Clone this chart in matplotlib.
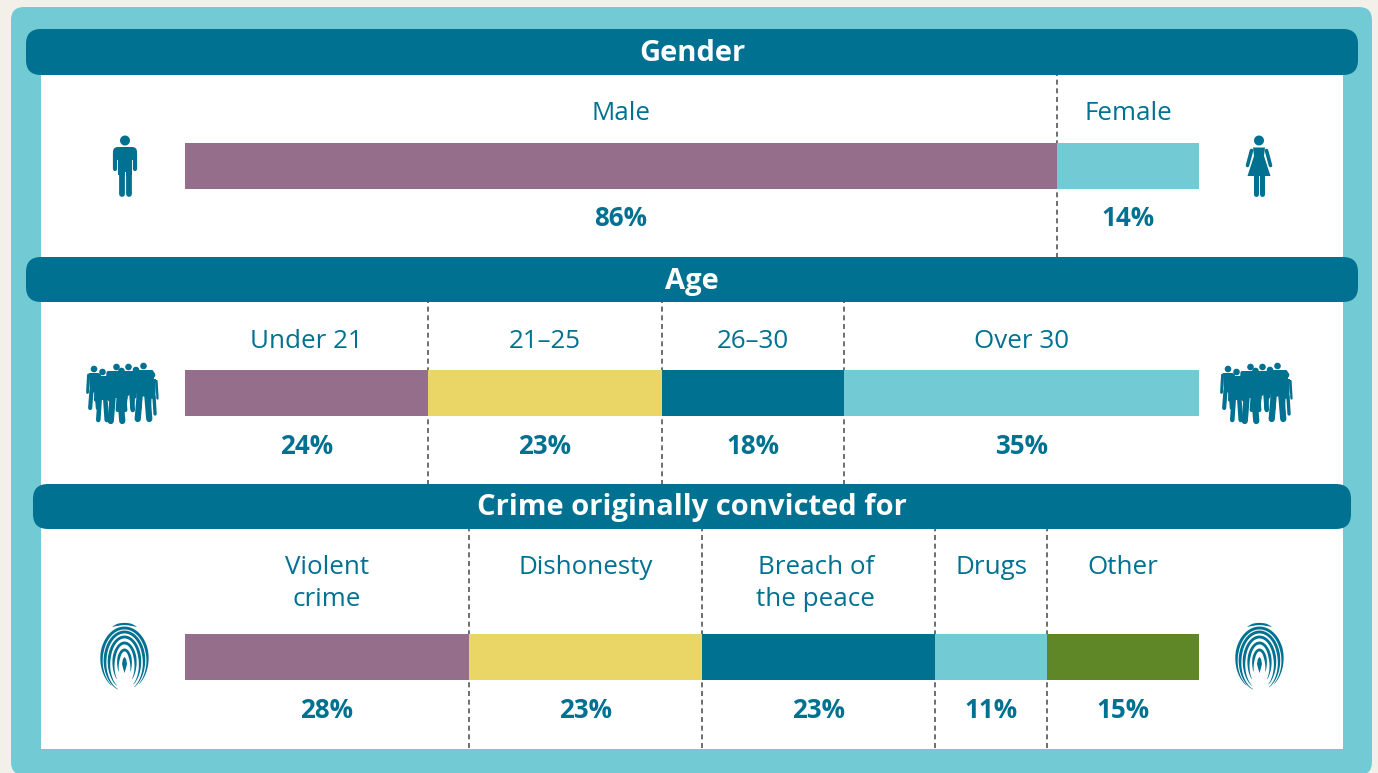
import numpy as np
import matplotlib
matplotlib.use("Agg")
import matplotlib.pyplot as plt
from matplotlib.lines import Line2D
from matplotlib.patches import FancyBboxPatch, Rectangle, Circle, Polygon
from matplotlib.transforms import blended_transform_factory

gender_labels = ["Male", "Female"]
gender_values = [86, 14]
gender_colors = ["#956E8B", "#72CBD4"]

age_labels = ["Under 21", "21–25", "26–30", "Over 30"]
age_values = [24, 23, 18, 35]
age_colors = ["#956E8B", "#E9D666", "#017191", "#72CBD4"]

crime_labels = ["Violent\ncrime", "Dishonesty", "Breach of\nthe peace", "Drugs", "Other"]
crime_values = [28, 23, 23, 11, 15]
crime_colors = ["#956E8B", "#E9D666", "#017191", "#72CBD4", "#5F8627"]
crime_nudges = [0, 0, -3, 0, 0]

TEAL = "#017191"
LIGHT = "#72CBD4"
BG = "#F2F0E9"
FONT = "Open Sans"
W, H = 1378, 773

plt.rcParams["font.family"] = [FONT, "DejaVu Sans"]
fig = plt.figure(figsize=(W / 100, H / 100), dpi=100, facecolor=BG)
bg = fig.add_axes([0, 0, 1, 1])
bg.set_xlim(0, W)
bg.set_ylim(H, 0)
bg.set_autoscale_on(False)
bg.axis("off")


def rounded(x0, y0, x1, y1, r, color, z):
    bg.add_patch(FancyBboxPatch((x0 + r, y0 + r), x1 - x0 - 2 * r, y1 - y0 - 2 * r,
                                boxstyle=f"round,pad={r},rounding_size={r}",
                                fc=color, ec="none", zorder=z))


rounded(11, 7, 1372, 775, 13, LIGHT, 1)
bg.add_patch(Rectangle((41, 60), 1302, 689, fc="white", ec="none", zorder=2))

headers = [("Gender", 26, 1358, 29, 75), ("Age", 26, 1358, 257, 302),
           ("Crime originally convicted for", 33, 1351, 484, 529)]
for title, x0, x1, y0, y1 in headers:
    rounded(x0, y0, x1, y1, 15, TEAL, 5)
    bg.text((x0 + x1) / 2, (y0 + y1) / 2 + 1.5, title, color="white", fontsize=21,
            fontweight="bold", ha="center", va="center", zorder=6)


def section(labels, values, colors, bar_top, line_top, line_bot, label_y, nudges=None):
    ax = fig.add_axes([185 / W, 1 - (bar_top + 46) / H, 1014 / W, 46 / H])
    ax.set_xlim(0, 100)
    ax.set_ylim(0, 1)
    ax.axis("off")
    ax.patch.set_alpha(0)
    tr = blended_transform_factory(ax.transData, bg.transData)
    left = 0
    nudges = nudges or [0] * len(values)
    for i, (lab, val, col) in enumerate(zip(labels, values, colors)):
        ax.barh(0.5, val, left=left, height=1, color=col, linewidth=0, zorder=3)
        mid = left + val / 2
        ax.annotate(lab, xy=(mid, label_y), xycoords=tr, xytext=(nudges[i] * 0.72, 0),
                    textcoords="offset points", color=TEAL, fontsize=18.7, ha="center",
                    va="top", linespacing=1.33, annotation_clip=False)
        ax.text(mid, bar_top + 76, f"{val}%", transform=tr, color=TEAL, fontsize=18.7,
                fontweight="bold", ha="center", va="center", clip_on=False)
        left += val
        if i < len(values) - 1:
            # Drawn upward from the bottom so a dash always meets the lower end.
            bg.add_line(Line2D([left, left], [line_bot, line_top], transform=tr, color="#555555",
                               lw=1.2, ls=(0, (3, 2.2)), zorder=3))


section(gender_labels, gender_values, gender_colors, 143, 75, 258, 101.5)
section(age_labels, age_values, age_colors, 370, 302, 485, 328.5)
section(crime_labels, crime_values, crime_colors, 634, 529, 748, 555.5, crime_nudges)


def stroke(xs, ys, w, cap="round", z=4):
    bg.plot(xs, ys, color=TEAL, lw=w * 0.72, solid_capstyle=cap, solid_joinstyle="round", zorder=z)


def man(cx):
    bg.add_patch(Circle((cx, 140.5), 5, fc=TEAL, ec="none", zorder=4))
    rounded(cx - 12, 147, cx + 12, 160, 5, TEAL, 4)
    stroke([cx - 10, cx - 10], [153, 169], 4.2)
    stroke([cx + 10, cx + 10], [153, 169], 4.2)
    bg.add_patch(Rectangle((cx - 6.6, 150), 13.2, 25, fc=TEAL, ec="none", zorder=4))
    stroke([cx - 3.5, cx - 3.5], [170, 193.5], 5.8)
    stroke([cx + 3.5, cx + 3.5], [170, 193.5], 5.8)
    bg.add_line(Line2D([cx, cx], [172, 197], color="white", lw=0.7, zorder=4.1))


def woman(cx):
    bg.add_patch(Circle((cx, 140.5), 5, fc=TEAL, ec="none", zorder=4))
    bg.add_patch(Polygon([(cx - 6, 147.5), (cx + 6, 147.5), (cx + 5, 156), (cx + 11.5, 176), (cx - 11.5, 176),
                          (cx - 5, 156)], closed=True, fc=TEAL, ec="none", zorder=4))
    stroke([cx - 7.5, cx - 11.5], [150.5, 165.5], 3.6)
    stroke([cx + 7.5, cx + 11.5], [150.5, 165.5], 3.6)
    stroke([cx - 3.2, cx - 3.2], [175, 194], 5)
    stroke([cx + 3.2, cx + 3.2], [175, 194], 5)


# (head x, head y, foot y, width) offsets relative to the left edge of the crowd
people = [(6, 369, 408, 10), (14.5, 372, 420, 11), (28.5, 367, 421, 15), (33.5, 371, 410, 10),
          (40.5, 367, 410, 11), (48, 370, 408, 10), (55.5, 366, 419, 15), (64, 375, 414, 8)]


def crowd(x0):
    for hx, hy, fy, w in people:
        hxp = x0 + hx
        mid = (hy + fy) / 2 + 2
        bg.add_patch(Circle((hxp, hy), 3.3, fc=TEAL, ec="none", zorder=4))
        bg.add_patch(Polygon([(hxp - w / 2, hy + 4), (hxp + w / 2, hy + 4), (hxp + w / 2.4, mid + 2),
                              (hxp - w / 2.4, mid + 2)], closed=True, fc=TEAL, ec="none", zorder=4))
        stroke([hxp - w / 4, hxp - w / 2.6], [mid, fy], w / 2.4)
        stroke([hxp + w / 4, hxp + w / 2.6], [mid, fy], w / 2.4)
        stroke([hxp - w / 2 - 0.5, hxp - w / 2 - 1.5], [hy + 6, mid + 2], w / 3.5)
        stroke([hxp + w / 2 + 0.5, hxp + w / 2 + 1.5], [hy + 6, mid + 2], w / 3.5)


def arc(cx, cy, rx, ry, t0, t1, w):
    # A tapered band drawn as a filled outline, so the stroke stays solid.
    t = np.radians(np.linspace(t0, t1, 120))
    u = np.linspace(0, 1, len(t))
    half = w / 2 * np.minimum(1, 0.15 + 3.5 * np.minimum(u, 1 - u))
    outer = np.column_stack([cx + (rx + half) * np.cos(t), cy - (ry + half) * np.sin(t)])
    inner = np.column_stack([cx + (rx - half) * np.cos(t), cy - (ry - half) * np.sin(t)])
    bg.add_patch(Polygon(np.vstack([outer, inner[::-1]]), closed=True, fc=TEAL, ec="none", zorder=4))


def fingerprint(cx):
    rings = [(6.5, 650, 680, 205, -25), (11, 643, 685, 225, -45), (15.5, 637, 689, 240, -55),
             (19.5, 632, 691, 250, -60), (23, 628, 691, 235, -50)]
    for rx, top, bot, t0, t1 in rings:
        arc(cx, (top + bot) / 2, rx, (bot - top) / 2, t0, t1, 2.9)
    arc(cx, 640, 21, 16, 125, 55, 2.2)
    bg.add_patch(Polygon([(cx - 2.5, 664), (cx - 1.6, 659), (cx, 657), (cx + 1.6, 659), (cx + 2.5, 664),
                          (cx + 1.2, 669), (cx, 673), (cx - 1.2, 669)],
                         closed=True, fc=TEAL, ec="none", zorder=4))


man(125)
woman(1259)
crowd(88)
crowd(1222)
fingerprint(124.5)
fingerprint(1259.5)

fig.savefig("out.png", dpi=100, facecolor=BG)
